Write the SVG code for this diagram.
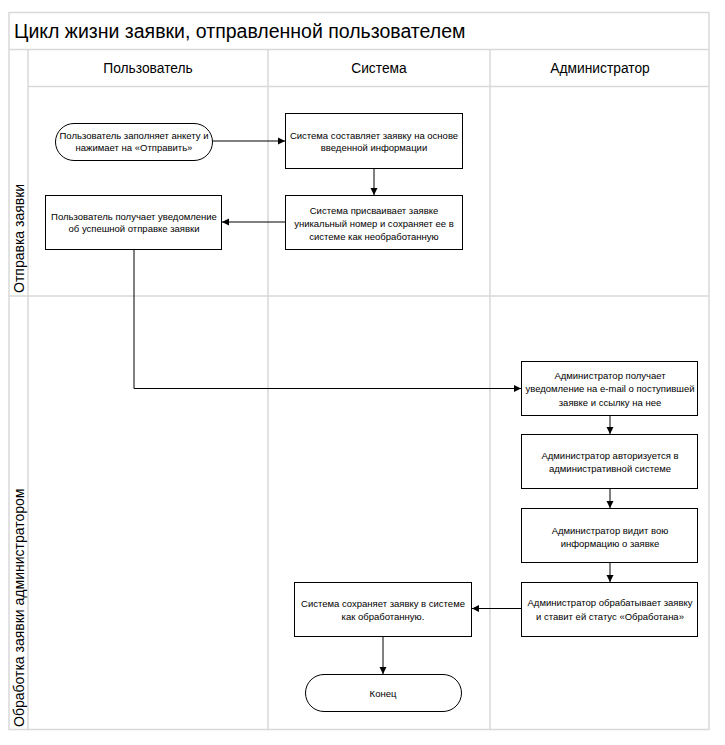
<svg xmlns="http://www.w3.org/2000/svg" width="725" height="745" viewBox="0 0 725 745">
<style>
.grid{stroke:#d9d9d9;stroke-width:1.5;fill:none}
.box{fill:#fff;stroke:#000;stroke-width:1}
.t{font-family:"Liberation Sans",Arial,sans-serif;font-size:9.5px;fill:#000;text-anchor:middle}
.h{font-family:"Liberation Sans",Arial,sans-serif;font-size:13.8px;fill:#000;text-anchor:middle}
.lane{font-family:"Liberation Sans",Arial,sans-serif;font-size:14px;fill:#000}
.title{font-family:"Liberation Sans",Arial,sans-serif;font-size:19.5px;fill:#000}
.c{stroke:#000;stroke-width:1;fill:none;marker-end:url(#arr)}
</style>
<defs>
<marker id="arr" markerWidth="8" markerHeight="8" refX="7" refY="4" orient="auto" markerUnits="userSpaceOnUse">
<path d="M0,0.5 L7,4 L0,7.5 Z" fill="#000"/>
</marker>
</defs>
<rect width="725" height="745" fill="#fff"/>
<g id="frame">
<rect class="grid" x="9" y="12.5" width="700" height="717"/>
<line class="grid" x1="9" y1="49.5" x2="709" y2="49.5"/>
<line class="grid" x1="28" y1="49.5" x2="28" y2="729.5"/>
<line class="grid" x1="28" y1="86.5" x2="709" y2="86.5"/>
<line class="grid" x1="268" y1="49.5" x2="268" y2="729.5"/>
<line class="grid" x1="490" y1="49.5" x2="490" y2="729.5"/>
<line class="grid" x1="9" y1="296" x2="709" y2="296"/>
<text class="title" x="14" y="38">Цикл жизни заявки, отправленной пользователем</text>
<text class="h" x="148" y="73">Пользователь</text>
<text class="h" x="379" y="73">Система</text>
<text class="h" x="600" y="73">Администратор</text>
<text class="lane" transform="translate(24,293) rotate(-90)">Отправка заявки</text>
<text class="lane" transform="translate(24,727) rotate(-90)">Обработка заявки администратором</text>
</g>
<g id="connectors">
<path class="c" d="M213,141 H285"/>
<path class="c" d="M374,169 V195"/>
<path class="c" d="M285,222 H222"/>
<path class="c" d="M134,250 V388.5 H521"/>
<path class="c" d="M610,416 V434"/>
<path class="c" d="M610,489 V508"/>
<path class="c" d="M610,563 V582"/>
<path class="c" d="M521,608.5 H472"/>
<path class="c" d="M383,637 V674"/>
</g>
<g id="start">
<rect class="box" x="55.5" y="123.5" width="157" height="37" rx="18.5"/>
<text class="t" x="134" y="139">Пользователь заполняет анкету и</text>
<text class="t" x="134" y="151">нажимает на «Отправить»</text>
</g>
<g id="sys1">
<rect class="box" x="285.5" y="113.5" width="177" height="55"/>
<text class="t" x="374" y="139">Система составляет заявку на основе</text>
<text class="t" x="374" y="151">введенной информации</text>
</g>
<g id="sys2">
<rect class="box" x="285.5" y="195.5" width="177" height="54"/>
<text class="t" x="374" y="214">Система присваивает заявке</text>
<text class="t" x="374" y="227">уникальный номер и сохраняет ее в</text>
<text class="t" x="374" y="240">системе как необработанную</text>
</g>
<g id="user2">
<rect class="box" x="45.5" y="195.5" width="176" height="54"/>
<text class="t" x="134" y="220">Пользователь получает уведомление</text>
<text class="t" x="134" y="232">об успешной отправке заявки</text>
</g>
<g id="adm1">
<rect class="box" x="521.5" y="361.5" width="176" height="54"/>
<text class="t" x="610" y="379">Администратор получает</text>
<text class="t" x="610" y="392">уведомление на e-mail о поступившей</text>
<text class="t" x="610" y="406">заявке и ссылку на нее</text>
</g>
<g id="adm2">
<rect class="box" x="521.5" y="434.5" width="176" height="54"/>
<text class="t" x="610" y="459">Администратор авторизуется в</text>
<text class="t" x="610" y="472">административной системе</text>
</g>
<g id="adm3">
<rect class="box" x="521.5" y="508.5" width="176" height="54"/>
<text class="t" x="610" y="534">Администратор видит вою</text>
<text class="t" x="610" y="547">информацию о заявке</text>
</g>
<g id="adm4">
<rect class="box" x="521.5" y="582.5" width="176" height="54"/>
<text class="t" x="610" y="606">Администратор обрабатывает заявку</text>
<text class="t" x="610" y="620">и ставит ей статус «Обработана»</text>
</g>
<g id="sys3">
<rect class="box" x="294.5" y="582.5" width="177" height="54"/>
<text class="t" x="383" y="607">Система сохраняет заявку в системе</text>
<text class="t" x="383" y="620">как обработанную.</text>
</g>
<g id="end">
<rect class="box" x="305.5" y="674.5" width="156" height="37" rx="18.5"/>
<text class="t" x="383" y="697">Конец</text>
</g>
</svg>
